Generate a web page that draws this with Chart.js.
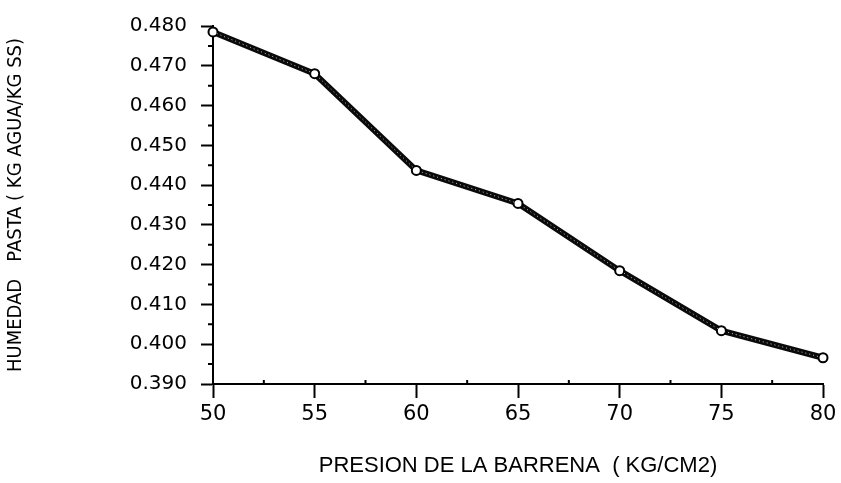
<!DOCTYPE html>
<html>
<head>
<meta charset="utf-8">
<script src="https://cdn.jsdelivr.net/npm/chart.js@4"></script>
<style>
  html, body { margin: 0; padding: 0; background: #fff; }
  #wrap { width: 841px; height: 483px; }
</style>
</head>
<body>
<div id="wrap"><canvas id="chart-one"></canvas></div>
<script>
// presion de la barrena (kg/cm2) vs humedad de la pasta
const presion = [50, 55, 60, 65, 70, 75, 80];
const humedad = [0.4785, 0.468, 0.4437, 0.4354, 0.4185, 0.4034, 0.3966];
const xTicks = [50, 55, 60, 65, 70, 75, 80];
const yTicks = [0.39, 0.40, 0.41, 0.42, 0.43, 0.44, 0.45, 0.46, 0.47, 0.48];

const puntos = presion.map((p, i) => ({ x: p, y: humedad[i] }));

// small ticks between the labelled ones
const minorTicks = {
  id: 'minorTicks',
  afterDraw(chart) {
    const { ctx, scales: { x, y } } = chart;
    ctx.save();
    ctx.strokeStyle = '#000';
    ctx.lineWidth = 2;
    ctx.beginPath();
    for (let i = 0; i < yTicks.length - 1; i++) {
      const py = y.getPixelForValue((yTicks[i] + yTicks[i + 1]) / 2);
      ctx.moveTo(x.left - 5, py);
      ctx.lineTo(x.left, py);
    }
    for (let i = 0; i < xTicks.length - 1; i++) {
      const px = x.getPixelForValue((xTicks[i] + xTicks[i + 1]) / 2);
      ctx.moveTo(px, y.bottom);
      ctx.lineTo(px, y.bottom - 4);
    }
    ctx.stroke();
    ctx.restore();
  }
};

const ctx = document.getElementById('chart-one');

const chart = new Chart(ctx, {
  type: 'line',
  data: {
    datasets: [
      {
        data: puntos,
        borderColor: '#0a0a0a',
        borderWidth: 6,
        pointRadius: 4.5,
        pointBorderWidth: 2,
        pointBorderColor: '#000',
        pointBackgroundColor: '#fff',
        tension: 0,
        clip: false,
        order: 2
      },
      {
        // speckled look of the scanned line
        data: puntos,
        borderColor: 'rgba(255,255,255,0.75)',
        borderWidth: 1,
        borderDash: [1, 3],
        pointRadius: 0,
        tension: 0,
        clip: false,
        order: 1
      }
    ]
  },
  options: {
    responsive: true,
    maintainAspectRatio: false,
    animation: false,
    layout: { padding: { left: 0, right: 18, top: 15, bottom: 0 } },
    plugins: {
      legend: { display: false },
      tooltip: { enabled: false }
    },
    scales: {
      x: {
        type: 'linear',
        min: 50,
        max: 80,
        afterFit: (s) => { s.height = 99; },
        afterBuildTicks: (s) => { s.ticks = xTicks.map(v => ({ value: v })); },
        ticks: {
          color: '#000',
          padding: 4,
          font: { family: 'DejaVu Sans', size: 21 },
          callback: (v) => String(v)
        },
        grid: { drawOnChartArea: false, tickLength: 14, tickWidth: 2, tickColor: '#000' },
        border: { color: '#000', width: 2 },
        title: {
          display: true,
          text: 'PRESION DE LA BARRENA  ( KG/CM2)',
          color: '#000',
          font: { family: 'Liberation Sans', size: 22 },
          padding: { top: 0, bottom: 4 }
        }
      },
      y: {
        min: 0.39,
        max: 0.48,
        afterFit: (s) => { s.width = 213; },
        afterBuildTicks: (s) => { s.ticks = yTicks.map(v => ({ value: v })); },
        ticks: {
          color: '#000',
          padding: 14,
          font: { family: 'DejaVu Sans', size: 20 },
          callback: (v) => v.toFixed(3)
        },
        grid: { drawOnChartArea: false, tickLength: 12, tickWidth: 2, tickColor: '#000' },
        border: { color: '#000', width: 2 },
        title: {
          display: true,
          text: 'HUMEDAD   PASTA ( KG AGUA/KG SS)',
          color: '#000',
          font: { family: '"DejaVu Sans Condensed", "Liberation Sans Narrow", "DejaVu Sans"', size: 20 },
          padding: { top: 4, bottom: 0 }
        }
      }
    }
  },
  plugins: [minorTicks]
});
</script>
</body>
</html>
